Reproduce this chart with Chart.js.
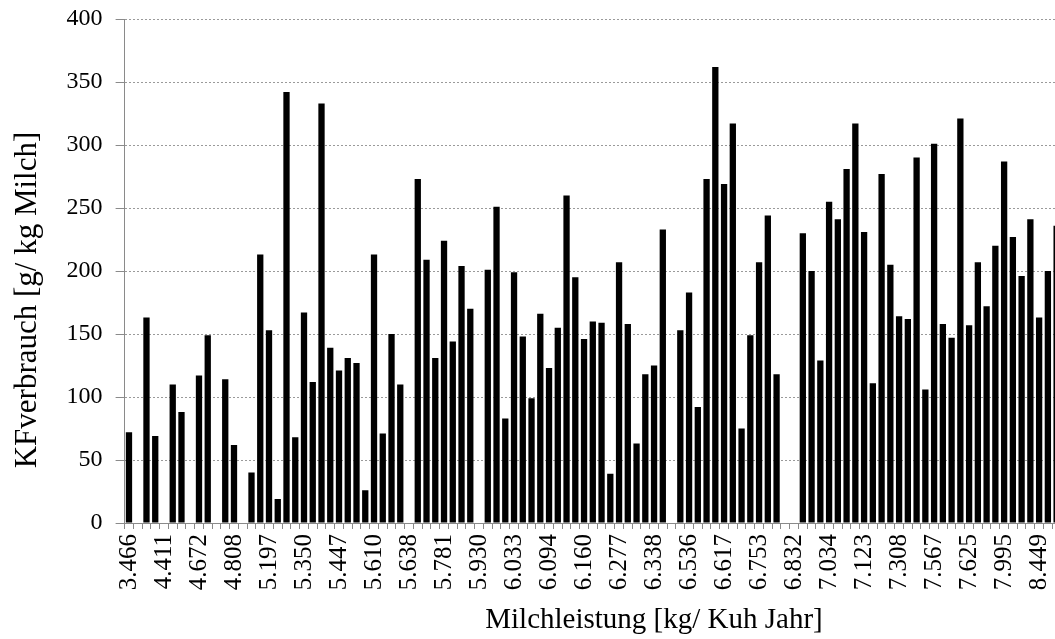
<!DOCTYPE html>
<html>
<head>
<meta charset="utf-8">
<script src="https://cdn.jsdelivr.net/npm/chart.js@4.4.1/dist/chart.umd.min.js"></script>
<style>
  html, body { margin: 0; padding: 0; overflow: hidden; background: #fff; }
  #wrap { position: absolute; left: 0; top: 0; width: 1061px; height: 639px; }
</style>
</head>
<body>
<div id="wrap"><canvas id="c"></canvas></div>
<script>
// Tick labels shown on the x axis (every 4th category)
const tickLabels = ['3.466','4.411','4.672','4.808','5.197','5.350','5.447','5.610','5.638',
  '5.781','5.930','6.033','6.094','6.160','6.277','6.338','6.536','6.617','6.753','6.832',
  '7.034','7.123','7.308','7.567','7.625','7.995','8.449'];

// KF consumption per farm (g/kg milk); null = no bar
const kfValues = [
  72, null, 163, 69, null, 110, 88, null, 117, 149,
  null, 114, 62, null, 40, 213, 153, 19, 342, 68,
  167, 112, 333, 139, 121, 131, 127, 26, 213, 71,
  150, 110, null, 273, 209, 131, 224, 144, 204, 170,
  null, 201, 251, 83, 199, 148, 99, 166, 123, 155,
  260, 195, 146, 160, 159, 39, 207, 158, 63, 118,
  125, 233, null, 153, 183, 92, 273, 362, 269, 317,
  75, 149, 207, 244, 118, null, null, 230, 200, 129,
  255, 241, 281, 317, 231, 111, 277, 205, 164, 162,
  290, 106, 301, 158, 147, 321, 157, 207, 172, 220,
  287, 227, 196, 241, 163, 200, 236
];

const yTicks = [0, 50, 100, 150, 200, 250, 300, 350, 400];
const xTitle = 'Milchleistung [kg/ Kuh Jahr]';
const yTitle = 'KFverbrauch [g/ kg Milch]';

const categories = kfValues.map((v, i) => (i % 4 === 0 && tickLabels[i / 4]) ? tickLabels[i / 4] : '');

const serif = '"Liberation Serif", "Times New Roman", serif';

const axisTitles = {
  id: 'axisTitles',
  afterDraw(chart) {
    const ctx = chart.ctx;
    ctx.save();
    ctx.fillStyle = '#000';
    ctx.textAlign = 'center';
    ctx.textBaseline = 'alphabetic';
    ctx.font = '29px ' + serif;
    ctx.fillText(xTitle, 654, 628);
    ctx.translate(36, 300);
    ctx.rotate(-Math.PI / 2);
    ctx.font = '31px ' + serif;
    ctx.fillText(yTitle, 0, 0);
    ctx.restore();
  }
};

new Chart(document.getElementById('c'), {
  type: 'bar',
  data: {
    labels: categories,
    datasets: [{
      data: kfValues,
      backgroundColor: '#000',
      borderWidth: 0,
      barPercentage: 0.72,
      categoryPercentage: 1.0
    }]
  },
  options: {
    responsive: true,
    maintainAspectRatio: false,
    animation: false,
    layout: { padding: { top: 19, left: 0, right: 0, bottom: 0 } },
    plugins: { legend: { display: false }, tooltip: { enabled: false }, title: { display: false } },
    scales: {
      x: {
        grid: { display: true, drawOnChartArea: false, drawTicks: true, tickLength: 6, color: '#8a8a8a', offset: true },
        border: { display: true, color: '#8a8a8a', width: 1 },
        ticks: {
          autoSkip: false, maxRotation: 90, minRotation: 90, padding: 5,
          color: '#000', font: { family: serif, size: 25 }
        },
        afterFit(scale) { scale.height = 116; scale.paddingLeft = 0; scale.paddingRight = 0; }
      },
      y: {
        min: 0, max: 400,
        afterBuildTicks(scale) { scale.ticks = yTicks.map(v => ({ value: v })); },
        grid: { color: '#9a9a9a', lineWidth: 1, drawTicks: true, tickLength: 9, tickColor: '#8a8a8a', tickBorderDash: [] },
        border: { display: true, color: '#8a8a8a', width: 1, dash: [2, 2] },
        ticks: { padding: 13, color: '#000', font: { family: serif, size: 24 } },
        afterFit(scale) { scale.width = 124.6; scale.paddingTop = 0; scale.paddingBottom = 0; }
      }
    }
  },
  plugins: [axisTitles]
});
</script>
</body>
</html>
